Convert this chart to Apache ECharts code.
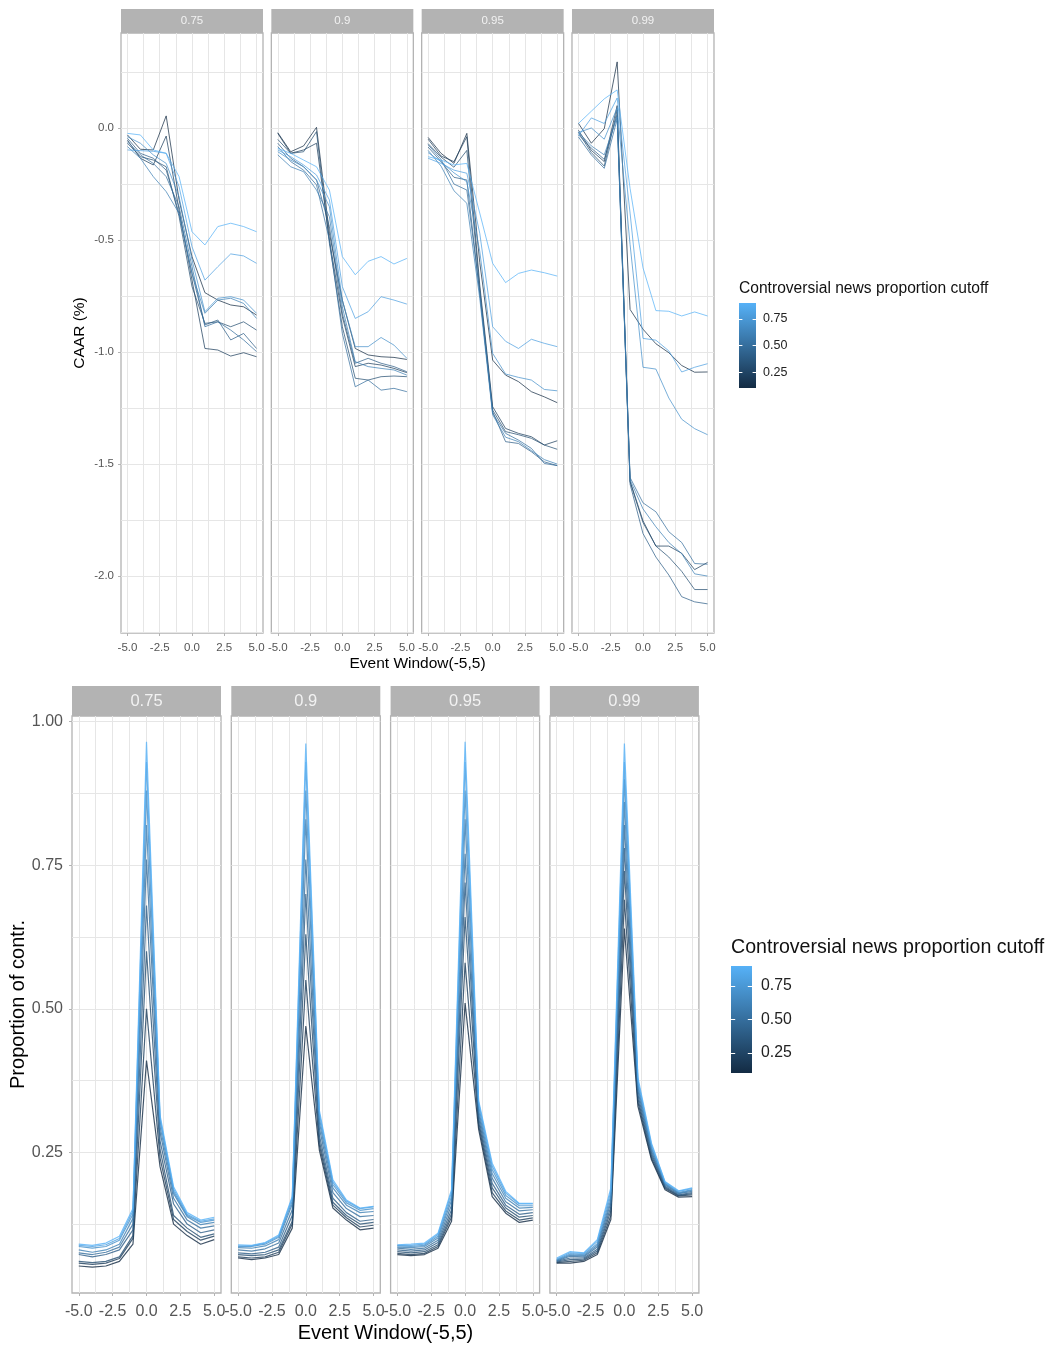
<!DOCTYPE html>
<html>
<head>
<meta charset="utf-8">
<script src="https://cdn.jsdelivr.net/npm/echarts@6/dist/echarts.min.js"></script>
<style>
  html, body { margin: 0; padding: 0; background: #fff; }
  #chart { width: 1053px; height: 1345px; }
</style>
</head>
<body>
<div id="chart"></div>
<script>
// event window days and colour-scale values
const xWindow = [-5, -4, -3, -2, -1, 0, 1, 2, 3, 4, 5];
const cutoffs = [0.1, 0.2, 0.3, 0.4, 0.5, 0.6, 0.7, 0.8, 0.9];
const facets = ['0.75', '0.9', '0.95', '0.99'];

// CAAR (%) per facet, one row per cutoff (0.1 .. 0.9)
const caar075 = [
  [-0.031,-0.095,-0.098, 0.054,-0.321,-0.574,-0.735,-0.768,-0.790,-0.798,-0.835],
  [-0.054,-0.135,-0.165,-0.036,-0.366,-0.679,-0.984,-0.991,-1.018,-1.003,-1.021],
  [-0.068,-0.128,-0.143,-0.173,-0.396,-0.708,-0.872,-0.865,-0.887,-0.865,-0.902],
  [-0.046,-0.113,-0.135,-0.188,-0.381,-0.649,-0.879,-0.857,-0.946,-0.917,-0.984],
  [-0.061,-0.120,-0.158,-0.217,-0.351,-0.619,-0.887,-0.865,-0.902,-0.946,-0.998],
  [-0.083,-0.135,-0.217,-0.284,-0.381,-0.649,-0.827,-0.768,-0.760,-0.783,-0.850],
  [-0.039,-0.068,-0.120,-0.158,-0.307,-0.589,-0.820,-0.760,-0.753,-0.768,-0.827],
  [-0.098,-0.101,-0.104,-0.113,-0.262,-0.530,-0.679,-0.619,-0.562,-0.571,-0.604],
  [-0.024,-0.031,-0.098,-0.113,-0.217,-0.463,-0.522,-0.440,-0.425,-0.440,-0.463]
];
const caar09 = [
  [-0.021,-0.106,-0.080, 0.003,-0.470,-0.768,-0.984,-1.013,-1.021,-1.024,-1.033],
  [-0.024,-0.113,-0.098,-0.068,-0.500,-0.842,-1.065,-1.050,-1.058,-1.073,-1.092],
  [-0.051,-0.113,-0.106,-0.016,-0.515,-0.887,-1.117,-1.125,-1.110,-1.107,-1.110],
  [-0.068,-0.135,-0.173,-0.232,-0.440,-0.827,-1.050,-1.028,-1.050,-1.065,-1.088],
  [-0.083,-0.150,-0.188,-0.254,-0.500,-0.917,-1.155,-1.125,-1.170,-1.162,-1.177],
  [-0.120,-0.173,-0.195,-0.277,-0.396,-0.798,-1.043,-1.065,-1.073,-1.080,-1.103],
  [-0.106,-0.143,-0.173,-0.232,-0.351,-0.768,-0.976,-0.976,-0.935,-0.969,-1.028],
  [-0.098,-0.128,-0.165,-0.210,-0.321,-0.708,-0.850,-0.820,-0.753,-0.768,-0.786],
  [-0.091,-0.113,-0.143,-0.173,-0.277,-0.574,-0.655,-0.595,-0.574,-0.607,-0.582]
];
const caar095 = [
  [-0.042,-0.113,-0.158,-0.024,-0.600,-1.036,-1.103,-1.132,-1.177,-1.200,-1.226],
  [-0.050,-0.125,-0.150,-0.039,-0.700,-1.244,-1.341,-1.363,-1.378,-1.415,-1.396],
  [-0.070,-0.130,-0.175,-0.100,-0.720,-1.259,-1.355,-1.369,-1.385,-1.415,-1.434],
  [-0.085,-0.150,-0.220,-0.232,-0.740,-1.266,-1.400,-1.408,-1.445,-1.490,-1.507],
  [-0.075,-0.140,-0.250,-0.277,-0.730,-1.274,-1.363,-1.393,-1.430,-1.497,-1.507],
  [-0.100,-0.170,-0.280,-0.336,-0.760,-1.280,-1.380,-1.400,-1.440,-1.480,-1.500],
  [-0.110,-0.150,-0.200,-0.240,-0.550,-1.006,-1.098,-1.113,-1.125,-1.167,-1.173],
  [-0.135,-0.158,-0.188,-0.202,-0.470,-0.887,-0.952,-0.984,-0.943,-0.961,-0.976],
  [-0.128,-0.143,-0.165,-0.158,-0.380,-0.604,-0.690,-0.649,-0.634,-0.646,-0.661]
];
const caar099 = [
  [ 0.021,-0.068,-0.003, 0.295,-0.810,-0.898,-0.963,-1.003,-1.060,-1.090,-1.089],
  [-0.010,-0.100,-0.150, 0.100,-1.576,-1.753,-1.866,-1.866,-1.898,-1.971,-1.939],
  [-0.020,-0.110,-0.170, 0.080,-1.580,-1.761,-1.866,-1.915,-1.979,-2.060,-2.060],
  [-0.030,-0.090,-0.140, 0.060,-1.590,-1.810,-1.915,-1.995,-2.092,-2.115,-2.124],
  [-0.040,-0.120,-0.180, 0.040,-1.560,-1.673,-1.713,-1.802,-1.850,-1.944,-1.947],
  [-0.020,-0.080,-0.120, 0.050,-1.570,-1.700,-1.780,-1.850,-1.900,-1.990,-2.000],
  [-0.020, 0.000,-0.050, 0.090,-0.520,-1.068,-1.076,-1.205,-1.300,-1.342,-1.369],
  [-0.035, 0.045, 0.020, 0.134,-0.380,-0.939,-0.947,-0.995,-1.089,-1.068,-1.052],
  [ 0.020, 0.075, 0.130, 0.170,-0.270,-0.624,-0.815,-0.818,-0.839,-0.821,-0.839]
];

// proportion of contr. per facet, one row per cutoff (0.1 .. 0.9)
const prop075 = [
  [0.052,0.050,0.052,0.060,0.090,0.410,0.225,0.125,0.105,0.090,0.098],
  [0.057,0.055,0.057,0.065,0.100,0.500,0.240,0.133,0.112,0.097,0.104],
  [0.060,0.058,0.060,0.068,0.105,0.600,0.255,0.140,0.118,0.102,0.108],
  [0.072,0.068,0.072,0.080,0.115,0.680,0.270,0.160,0.125,0.110,0.115],
  [0.075,0.072,0.076,0.085,0.125,0.760,0.285,0.170,0.132,0.118,0.122],
  [0.080,0.076,0.080,0.090,0.135,0.820,0.295,0.178,0.138,0.124,0.128],
  [0.086,0.083,0.086,0.097,0.142,0.880,0.305,0.182,0.140,0.128,0.132],
  [0.088,0.086,0.089,0.100,0.148,0.930,0.310,0.186,0.142,0.130,0.134],
  [0.090,0.088,0.092,0.104,0.152,0.965,0.315,0.190,0.145,0.132,0.137]
];
const prop09 = [
  [0.066,0.063,0.066,0.072,0.118,0.470,0.254,0.153,0.132,0.115,0.118],
  [0.068,0.066,0.068,0.076,0.125,0.550,0.262,0.158,0.136,0.120,0.123],
  [0.072,0.070,0.072,0.080,0.130,0.630,0.270,0.163,0.140,0.125,0.128],
  [0.075,0.073,0.076,0.085,0.140,0.700,0.280,0.170,0.145,0.130,0.133],
  [0.080,0.078,0.082,0.092,0.150,0.760,0.292,0.180,0.152,0.138,0.140],
  [0.084,0.083,0.087,0.098,0.160,0.830,0.302,0.188,0.158,0.145,0.147],
  [0.086,0.086,0.090,0.102,0.165,0.880,0.310,0.194,0.162,0.149,0.152],
  [0.087,0.087,0.092,0.104,0.170,0.930,0.318,0.198,0.165,0.152,0.155],
  [0.089,0.088,0.093,0.106,0.173,0.962,0.323,0.202,0.167,0.153,0.156]
];
const prop095 = [
  [0.072,0.070,0.072,0.083,0.130,0.510,0.290,0.173,0.144,0.128,0.132],
  [0.074,0.072,0.074,0.086,0.137,0.580,0.297,0.180,0.148,0.132,0.136],
  [0.077,0.075,0.077,0.089,0.143,0.660,0.303,0.188,0.153,0.137,0.140],
  [0.080,0.078,0.080,0.093,0.150,0.720,0.310,0.196,0.158,0.142,0.145],
  [0.083,0.081,0.083,0.097,0.158,0.770,0.317,0.205,0.164,0.148,0.150],
  [0.085,0.084,0.086,0.101,0.166,0.830,0.323,0.213,0.170,0.153,0.154],
  [0.087,0.086,0.088,0.104,0.173,0.880,0.330,0.220,0.175,0.157,0.157],
  [0.088,0.088,0.090,0.107,0.180,0.930,0.336,0.226,0.179,0.160,0.160],
  [0.089,0.090,0.092,0.109,0.185,0.965,0.340,0.231,0.182,0.161,0.161]
];
const prop099 = [
  [0.057,0.057,0.060,0.072,0.133,0.640,0.330,0.237,0.185,0.172,0.173],
  [0.058,0.060,0.062,0.075,0.140,0.690,0.337,0.240,0.187,0.174,0.176],
  [0.059,0.063,0.064,0.078,0.148,0.740,0.343,0.244,0.189,0.175,0.178],
  [0.060,0.066,0.066,0.081,0.155,0.780,0.350,0.248,0.191,0.176,0.180],
  [0.061,0.069,0.068,0.085,0.162,0.820,0.357,0.252,0.193,0.178,0.182],
  [0.062,0.071,0.070,0.088,0.168,0.860,0.363,0.256,0.195,0.179,0.184],
  [0.063,0.073,0.072,0.091,0.175,0.900,0.369,0.259,0.196,0.180,0.185],
  [0.064,0.075,0.074,0.095,0.182,0.930,0.375,0.263,0.198,0.182,0.187],
  [0.066,0.077,0.075,0.098,0.188,0.962,0.380,0.266,0.199,0.183,0.188]
];

// tick labels and grid breaks
const windowTicks = [-5, -2.5, 0, 2.5, 5];
const windowGrid = [-5, -3.75, -2.5, -1.25, 0, 1.25, 2.5, 3.75, 5];
const caarTicks = [0, -0.5, -1, -1.5, -2];
const caarGrid = [0.25, 0, -0.25, -0.5, -0.75, -1, -1.25, -1.5, -1.75, -2, -2.25];
const propTicks = [0.25, 0.5, 0.75, 1];
const propGrid = [0.125, 0.25, 0.375, 0.5, 0.625, 0.75, 0.875, 1];
const legendTicks = [0.25, 0.5, 0.75];

const FONT = '"Liberation Sans", Arial, sans-serif';
const LOW = [19, 43, 67], HIGH = [86, 177, 247];   // #132B43 -> #56B1F7

function cutColor(v) {
  let t = (v - 0.1) / 0.8;
  let c = LOW.map((lo, i) => Math.round(lo + (HIGH[i] - lo) * t));
  return 'rgb(' + c.join(',') + ')';
}

// the two facet rows
let rows = [
  { data: [caar075, caar09, caar095, caar099], left: 121, step: 150.33, w: 142, top: 33, h: 600,
    stripH: 24, fs: 11.5, stripFs: 11.5, min: -2.254, max: 0.424, ticks: caarTicks, grid: caarGrid, digits: 1,
    xMargin: 9, yMargin: 7, lineW: 1, op: 0.72,
    yTitle: 'CAAR (%)', yTitleX: 80, yTitleFs: 15.5, xTitleY: 664, xTitleFs: 15.5,
    legend: { x: 739, titleY: 289, top: 303, w: 17, h: 85, titleFs: 15.6, fs: 12.5, margin: 7 } },
  { data: [prop075, prop09, prop095, prop099], left: 72, step: 159.3, w: 149, top: 716, h: 577,
    stripH: 30, fs: 16, stripFs: 16.5, min: 0.005, max: 1.01, ticks: propTicks, grid: propGrid, digits: 2,
    xMargin: 11, yMargin: 9, lineW: 1.2, op: 0.8,
    yTitle: 'Proportion of contr.', yTitleX: 18, yTitleFs: 20, xTitleY: 1333, xTitleFs: 20,
    legend: { x: 731, titleY: 948, top: 966, w: 21, h: 107, titleFs: 19.6, fs: 15.8, margin: 9 } }
];

let grids = [], xAxes = [], yAxes = [], series = [], graphics = [];

rows.forEach(function (row) {
  row.data.forEach(function (facetData, f) {
    let gi = grids.length;
    let L = row.left + f * row.step;
    grids.push({ left: L, top: row.top, width: row.w, height: row.h, show: true,
      backgroundColor: '#fff', borderColor: '#B3B3B3', borderWidth: 1.3 });

    // axis with labels and ticks
    xAxes.push({ type: 'value', gridIndex: gi, min: -5.5, max: 5.5, position: 'bottom',
      axisLine: { show: false, onZero: false }, splitLine: { show: false },
      axisTick: { show: true, customValues: windowTicks, length: 3, lineStyle: { color: '#B3B3B3' } },
      axisLabel: { customValues: windowTicks, formatter: v => v.toFixed(1), color: '#555',
        fontSize: row.fs, fontFamily: FONT, margin: row.xMargin } });
    // axis that only carries the grid lines
    xAxes.push({ type: 'value', gridIndex: gi, min: -5.5, max: 5.5, position: 'bottom',
      axisLine: { show: false, onZero: false }, axisLabel: { show: false },
      axisTick: { show: false, customValues: windowGrid },
      splitLine: { show: true, lineStyle: { color: '#E6E6E6', width: 1 } } });

    yAxes.push({ type: 'value', gridIndex: gi, min: row.min, max: row.max, position: 'left',
      axisLine: { show: false, onZero: false }, splitLine: { show: false },
      axisTick: { show: f === 0, customValues: row.ticks, length: 3, lineStyle: { color: '#B3B3B3' } },
      axisLabel: { show: f === 0, customValues: row.ticks, formatter: v => v.toFixed(row.digits),
        color: '#555', fontSize: row.fs, fontFamily: FONT, margin: row.yMargin } });
    yAxes.push({ type: 'value', gridIndex: gi, min: row.min, max: row.max, position: 'left',
      axisLine: { show: false, onZero: false }, axisLabel: { show: false },
      axisTick: { show: false, customValues: row.grid },
      splitLine: { show: true, lineStyle: { color: '#E6E6E6', width: 1 } } });

    facetData.forEach(function (vals, j) {
      series.push({
        type: 'line', xAxisIndex: 2 * gi, yAxisIndex: 2 * gi,
        data: xWindow.map((x, k) => [x, vals[k]]),
        showSymbol: false, symbol: 'none', silent: true, z: 3 + j,
        lineStyle: { width: row.lineW, color: cutColor(cutoffs[j]), opacity: row.op }
      });
    });

    // facet strip
    graphics.push({ type: 'rect', silent: true,
      shape: { x: L, y: row.top - row.stripH, width: row.w, height: row.stripH },
      style: { fill: '#B3B3B3' } });
    graphics.push({ type: 'text', silent: true, x: L + row.w / 2, y: row.top - row.stripH / 2,
      style: { text: facets[f], fill: '#F2F2F2', font: row.stripFs + 'px ' + FONT,
        textAlign: 'center', textVerticalAlign: 'middle' } });
  });

  // axis titles
  let spanL = row.left, spanR = row.left + 3 * row.step + row.w;
  graphics.push({ type: 'text', silent: true, x: (spanL + spanR) / 2, y: row.xTitleY,
    style: { text: 'Event Window(-5,5)', fill: '#000', font: row.xTitleFs + 'px ' + FONT,
      textAlign: 'center', textVerticalAlign: 'middle' } });
  graphics.push({ type: 'text', silent: true, x: row.yTitleX, y: row.top + row.h / 2, rotation: Math.PI / 2,
    style: { text: row.yTitle, fill: '#000', font: row.yTitleFs + 'px ' + FONT,
      textAlign: 'center', textVerticalAlign: 'middle' } });

  // colour bar legend
  let lg = row.legend;
  let gi = grids.length;
  grids.push({ left: lg.x, top: lg.top, width: lg.w, height: lg.h, show: true, borderWidth: 0,
    backgroundColor: { type: 'linear', x: 0, y: 0, x2: 0, y2: 1,
      colorStops: [{ offset: 0, color: cutColor(0.9) }, { offset: 0.5, color: cutColor(0.5) },
        { offset: 1, color: cutColor(0.1) }] } });
  xAxes.push({ type: 'value', gridIndex: gi, show: false, min: 0, max: 1 });
  yAxes.push({ type: 'value', gridIndex: gi, min: 0.1, max: 0.9, position: 'right',
    axisLine: { show: false, onZero: false }, splitLine: { show: false },
    axisTick: { show: true, inside: true, length: lg.w / 5, customValues: legendTicks,
      lineStyle: { color: '#fff', width: 1 } },
    axisLabel: { customValues: legendTicks, formatter: v => v.toFixed(2), color: '#222',
      fontSize: lg.fs, fontFamily: FONT, margin: lg.margin } });
  yAxes.push({ type: 'value', gridIndex: gi, min: 0.1, max: 0.9, position: 'left',
    axisLine: { show: false, onZero: false }, splitLine: { show: false }, axisLabel: { show: false },
    axisTick: { show: true, inside: true, length: lg.w / 5, customValues: legendTicks,
      lineStyle: { color: '#fff', width: 1 } } });
  graphics.push({ type: 'text', silent: true, x: lg.x, y: lg.titleY,
    style: { text: 'Controversial news proportion cutoff', fill: '#111', font: lg.titleFs + 'px ' + FONT,
      textAlign: 'left', textVerticalAlign: 'middle' } });
});

let chart = echarts.init(document.getElementById('chart'));
chart.setOption({
  animation: false,
  backgroundColor: '#fff',
  grid: grids,
  xAxis: xAxes,
  yAxis: yAxes,
  series: series,
  graphic: graphics
});
</script>
</body>
</html>
